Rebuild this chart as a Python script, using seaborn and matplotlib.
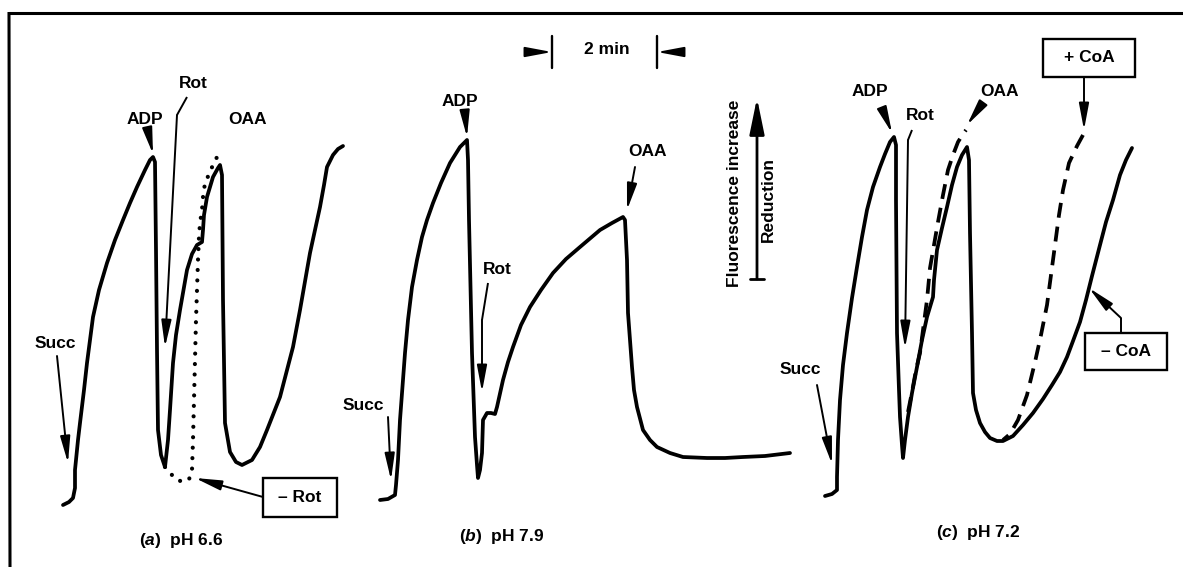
import matplotlib
matplotlib.use('Agg')
import matplotlib.pyplot as plt
from matplotlib.patches import Rectangle, ArrowStyle
import seaborn as sns

# Traces.
# x = chart distance (105 units = 2 min), y = deflection from the top edge
# (smaller y = more fluorescence, i.e. more reduction)

# (a) pH 6.6
a_x = [63, 69, 73, 75, 75, 78, 80, 84, 87, 93, 99, 107, 115, 123, 130, 137, 145, 150, 153,
       155, 156, 157, 158, 161, 165, 168, 170, 173, 176, 180, 187, 192, 197, 202, 203, 204,
       207, 213, 218, 220, 222, 223, 225, 230, 236, 242, 252, 260, 267, 280, 293, 300, 307,
       310, 315, 320, 324, 327, 333, 338, 343]
a_y = [505, 502, 498, 488, 470, 440, 423, 390, 363, 317, 290, 263, 240, 220, 203, 187, 170, 160, 157,
       162, 250, 350, 430, 455, 467, 440, 410, 363, 335, 310, 270, 254, 245, 242, 230, 215,
       197, 177, 168, 165, 175, 300, 423, 452, 462, 465, 460, 447, 430, 397, 347, 310, 270,
       253, 230, 207, 185, 167, 155, 149, 146]

# (a) without rotenone (dotted)
a_norot_x = [165, 170, 177, 184, 190, 192, 193, 194, 195, 196, 197, 198, 199, 200, 202, 203,
             205, 210, 215, 221]
a_norot_y = [467, 473, 480, 482, 478, 470, 440, 400, 360, 320, 290, 260, 237, 223, 210, 197,
             183, 172, 160, 152]

# (b) pH 7.9
b_x = [380, 388, 395, 396, 398, 400, 405, 408, 412, 417, 422, 427, 433, 441, 450, 455, 460, 467,
       468, 469, 472, 475, 477, 478, 480, 482, 483, 487, 491, 495, 497, 503, 508, 513, 521, 530,
       541, 553, 566, 580, 600, 612, 623, 625, 627, 628, 630, 632, 634, 637, 643, 650, 657, 670,
       683, 707, 725, 743, 765, 790]
b_y = [500, 499, 495, 485, 460, 420, 353, 320, 287, 260, 237, 220, 203, 183, 163, 155, 147, 140,
       160, 220, 353, 437, 465, 478, 470, 453, 420, 413, 413, 414, 407, 380, 362, 347, 325, 307,
       290, 273, 259, 247, 230, 223, 217, 220, 260, 313, 340, 367, 390, 407, 430, 440, 447, 453,
       457, 458, 458, 457, 456, 453]

# (c) pH 7.2, without CoA (solid)
c_x = [825, 832, 837, 837, 838, 840, 843, 847, 852, 857, 862, 867, 873, 880, 885, 890, 894, 896,
       896, 897, 899, 900, 902, 903, 905, 908, 912, 917, 922, 927, 933, 934, 937, 942, 947, 952,
       957, 962, 967, 969, 970, 972, 973, 976, 980, 985, 990, 997, 1003, 1013, 1023, 1033, 1043,
       1052, 1060, 1067, 1073, 1080, 1086, 1092, 1100, 1106, 1113, 1120, 1126, 1132]
c_y = [496, 494, 490, 477, 440, 400, 365, 333, 298, 267, 237, 210, 187, 167, 154, 142, 137, 145,
       200, 333, 390, 417, 445, 458, 440, 417, 393, 367, 340, 317, 297, 280, 250, 228, 207, 185,
       167, 155, 147, 160, 233, 333, 393, 410, 423, 432, 438, 441, 441, 436, 425, 413, 399,
       385, 372, 357, 341, 322, 300, 276, 245, 222, 200, 175, 160, 148]

# (c) with CoA (dashed), first rise after rotenone and second rise after OAA
c_coa1_x = [908, 912, 916, 920, 923, 927, 930, 934, 938, 943, 948, 953, 958, 963, 966]
c_coa1_y = [412, 392, 370, 353, 330, 300, 268, 245, 222, 195, 170, 155, 142, 134, 130]
c_coa2_x = [1083, 1077, 1069, 1063, 1059, 1055, 1051, 1047, 1041, 1035, 1027, 1018, 1010, 1003]
c_coa2_y = [135, 146, 163, 190, 215, 245, 275, 305, 335, 362, 395, 420, 434, 440]

W, H = 1183, 567

sns.set_theme(style='white')
plt.rcParams['font.family'] = ['Liberation Sans', 'DejaVu Sans']
plt.rcParams['font.weight'] = 'bold'
plt.rcParams['mathtext.fontset'] = 'custom'
plt.rcParams['mathtext.rm'] = 'Liberation Sans:bold'
plt.rcParams['mathtext.it'] = 'Liberation Sans:italic:bold'

fig = plt.figure(figsize=(W / 100, H / 100), dpi=100)
ax = fig.add_axes([0, 0, 1, 1])
ax.set_xlim(0, W)
ax.set_ylim(H, 0)
ax.axis('off')

trace_kw = dict(color='black', linewidth=2.7, sort=False, estimator=None, ax=ax,
                solid_joinstyle='round', solid_capstyle='round')
sns.lineplot(x=a_x, y=a_y, **trace_kw)
sns.lineplot(x=b_x, y=b_y, **trace_kw)
sns.lineplot(x=c_x, y=c_y, **trace_kw)
sns.lineplot(x=a_norot_x, y=a_norot_y, color='black', linewidth=3.0, sort=False, estimator=None,
             ax=ax, linestyle=(0, (0.01, 2.5)), dash_capstyle='round')
for xs, ys in [(c_coa1_x, c_coa1_y), (c_coa2_x, c_coa2_y)]:
    sns.lineplot(x=xs, y=ys, color='black', linewidth=2.7, sort=False, estimator=None,
                 ax=ax, linestyle=(0, (4, 2.4)))

FS = 12.5
head = ArrowStyle('-|>', head_length=1.6, head_width=0.3)


def arrow(tail, tip, path=None):
    # optional bend points before the arrowed segment
    if path:
        xs = [p[0] for p in path] + [tail[0]]
        ys = [p[1] for p in path] + [tail[1]]
        ax.plot(xs, ys, color='black', lw=1.4, solid_capstyle='butt')
    ax.annotate('', xy=tip, xytext=tail,
                arrowprops=dict(arrowstyle=head, color='black', lw=1.4,
                                mutation_scale=10, shrinkA=0, shrinkB=0))


def label(x, y, s, **kw):
    ax.text(x, y, s, fontsize=FS, ha='center', va='center', color='black', **kw)


def box(x0, y0, x1, y1, s):
    ax.add_patch(Rectangle((x0, y0), x1 - x0, y1 - y0, fill=False, ec='black', lw=1.7))
    label((x0 + x1) / 2, (y0 + y1) / 2, s)


# frame
ax.plot([9, W], [13, 13], color='black', lw=2.2, solid_capstyle='butt')
ax.plot([9, 10], [12, H], color='black', lw=2.2, solid_capstyle='butt')

# panel (a)
label(55, 343, 'Succ')
arrow((57, 356), (68, 463))
label(145, 119, 'ADP')
arrow((148, 131), (153, 154))
label(193, 83, 'Rot')
arrow((177, 115), (165, 347), path=[(187, 97)])
label(248, 120, 'OAA')
box(263, 478, 337, 517, '\u2013 Rot')
arrow((263, 497), (195, 478))
label(181, 540, r'($\it{a}$)  pH 6.6')

# panel (b)
label(363, 405, 'Succ')
arrow((388, 417), (391, 480))
label(460, 101, 'ADP')
arrow((465, 114), (467, 137))
label(497, 270, 'Rot')
arrow((482, 320), (482, 392), path=[(488, 283)])
label(648, 151, 'OAA')
arrow((635, 167), (627, 210))
label(502, 536, r'($\it{b}$)  pH 7.9')

# panel (c)
label(800, 369, 'Succ')
arrow((817, 385), (832, 464))
label(870, 92, 'ADP')
arrow((882, 108), (892, 133))
label(920, 115, 'Rot')
arrow((908, 140), (905, 348), path=[(912, 130)])
label(1000, 92, 'OAA')
arrow((980, 107), (967, 125))
box(1043, 39, 1135, 77, '+ CoA')
arrow((1084, 77), (1084, 130))
box(1085, 333, 1167, 370, '\u2013 CoA')
arrow((1121, 318), (1089, 288), path=[(1121, 333)])
label(978, 532, r'($\it{c}$)  pH 7.2')

# time scale
label(607, 50, '2 min')
ax.plot([552, 552], [36, 68], color='black', lw=1.7)
ax.plot([657, 657], [36, 68], color='black', lw=1.7)
arrow((525, 52), (552, 52))
arrow((683, 52), (657, 52))

# fluorescence scale
ax.plot([750, 764], [279, 279], color='black', lw=2.0)
ax.annotate('', xy=(757, 98), xytext=(757, 279),
            arrowprops=dict(arrowstyle=ArrowStyle('-|>', head_length=2.2, head_width=0.45),
                            color='black', lw=2.0, mutation_scale=10, shrinkA=0, shrinkB=0))
label(735, 193, 'Fluorescence increase', rotation=90)
label(768, 200, 'Reduction', rotation=90)

fig.savefig('out.png', dpi=100)
